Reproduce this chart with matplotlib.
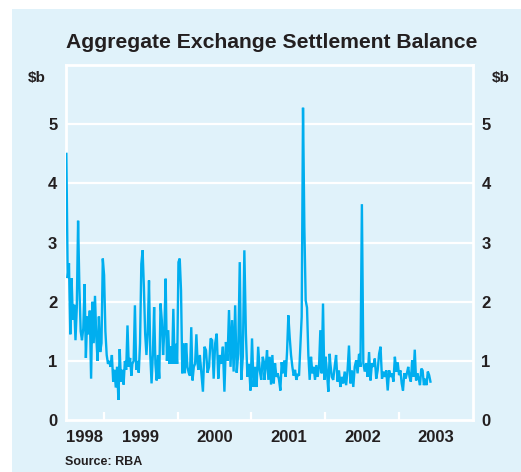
# Aggregate Exchange Settlement Balance (RBA style)
import numpy as np
import matplotlib.pyplot as plt
from matplotlib.patches import Rectangle

plt.rcParams['font.family'] = ['Liberation Sans', 'DejaVu Sans']
plt.rcParams['font.weight'] = 'bold'

# data: readings in $b, grouped by stretch of time (decimal years)
spans = [(1998.495, 1999.375), (1999.388, 2000.272), (2000.281, 2001.174),
         (2001.175, 2002.059), (2002.068, 2002.961), (2002.963, 2003.423)]

vals_a = [4.5, 2.4, 2.65, 1.45, 2.4, 1.7, 1.95, 1.35, 1.9, 3.37,
          2.25, 1.5, 1.35, 1.55, 2.3, 1.05, 1.75, 1.45, 1.85, 0.7,
          2.0, 1.3, 2.1, 1.4, 1.0, 1.75, 1.15, 1.3, 2.73, 2.45,
          1.5, 1.1, 0.95, 1.0, 0.9, 1.1, 0.65, 0.85, 0.55, 0.9,
          0.34, 1.2, 0.65, 0.85, 0.6, 1.0, 0.85, 1.6, 0.9, 1.05, 0.75]
vals_b = [0.95, 1.0, 1.94, 0.85, 1.0, 0.8, 1.3, 2.64, 2.87, 2.25,
          1.46, 1.1, 1.5, 2.36, 1.1, 0.62, 1.1, 1.91, 0.95, 0.67,
          1.1, 0.7, 1.97, 1.69, 1.1, 1.52, 2.39, 1.0, 1.52, 0.95,
          1.25, 0.95, 1.88, 0.95, 1.29, 0.95, 2.67, 2.73, 2.19, 0.79,
          1.3, 0.79, 1.3, 0.9, 0.8, 0.75, 1.57, 0.67, 0.9, 0.95, 1.45, 0.95]
vals_c = [0.85, 1.1, 0.8, 0.48, 1.24, 1.18, 0.8, 0.9, 1.38, 1.35,
          0.7, 1.3, 1.46, 0.7, 1.1, 0.95, 1.24, 0.48, 1.32, 1.0,
          1.86, 0.9, 1.69, 0.82, 1.94, 0.8, 1.12, 2.67, 0.68, 1.07,
          2.87, 1.46, 0.73, 0.95, 0.5, 1.38, 0.56, 0.9, 0.56, 1.24,
          0.84, 0.68, 1.07, 0.95]
vals_d = [0.68, 0.9, 1.18, 0.68, 1.07, 0.6, 1.1, 0.62, 0.96, 0.73,
          0.79, 0.68, 0.5, 0.98, 0.79, 1.01, 0.73, 1.15, 1.77, 1.40,
          1.1, 0.9, 0.75, 0.85, 0.68, 0.78, 0.75, 1.24, 1.75, 5.28,
          3.26, 2.02, 1.9, 1.1, 0.68, 1.07, 0.79, 0.9, 0.68, 0.93,
          0.73, 0.9, 1.52, 0.79, 1.97, 0.68, 1.07, 0.79, 0.48, 1.12]
vals_e = [0.96, 0.73, 0.68, 0.9, 1.1, 0.65, 0.84, 0.56, 0.73, 0.62,
          0.82, 0.59, 0.84, 1.26, 0.62, 0.84, 0.56, 0.9, 1.01, 0.79,
          1.12, 0.9, 3.65, 0.96, 0.82, 0.96, 0.73, 1.15, 0.67, 0.96,
          0.9, 1.04, 0.70, 0.84, 1.12, 1.24, 0.70, 0.82, 0.73, 0.84,
          0.50, 0.84, 0.73, 0.79, 0.65, 1.07, 0.82]
vals_f = [0.96, 0.96, 0.76, 0.84, 0.62, 0.50, 0.79, 0.70, 0.79, 0.90,
          0.73, 0.65, 1.01, 0.73, 1.19, 0.67, 0.79, 0.70, 0.59, 0.87,
          0.84, 0.59, 0.70, 0.59, 0.82, 0.76, 0.65]

years = [1998, 1999, 2000, 2001, 2002, 2003]
yticks = [0, 1, 2, 3, 4, 5]

bg = '#e0f2fa'
line_col = '#00aeef'
txt = '#231f20'

# build the series
t = []
v = []
for (t0, t1), vals in zip(spans, [vals_a, vals_b, vals_c, vals_d, vals_e, vals_f]):
    t.extend(np.linspace(t0, t1, len(vals)))
    v.extend(vals)

fig = plt.figure(figsize=(5.21, 4.72), dpi=100)
fig.patch.set_facecolor('white')
fig.patches.append(Rectangle((12/521, 0), 509/521, 463/472, transform=fig.transFigure,
                             facecolor=bg, edgecolor='none', zorder=-1))

ax = fig.add_axes([0.126, 0.110, 0.782, 0.752])
ax.set_facecolor(bg)
ax.plot(t, v, color=line_col, lw=1.7, solid_joinstyle='miter', zorder=3)

ax.set_xlim(1998.485, 2004.0)
ax.set_ylim(0, 6)

# white grid and frame
for y in yticks[1:]:
    ax.axhline(y, color='white', lw=1.6, zorder=0)
for s in ax.spines.values():
    s.set_color('white')
    s.set_linewidth(2)
    s.set_zorder(1)

ax.set_yticks(yticks)
ax.tick_params(axis='y', length=0, labelsize=12, labelcolor=txt, pad=6,
               labelright=True, right=False)
for lab in ax.get_yticklabels():
    lab.set_fontweight('bold')

# year boundaries as ticks, labels centred in each year
ax.set_xticks(years[1:])
ax.tick_params(axis='x', which='major', direction='in', length=6, width=1.6,
               color='white', labelbottom=False)
lo, hi = ax.get_xlim()
mids = [(max(y, lo) + min(y + 1, hi)) / 2 for y in years]
ax.set_xticks(mids, minor=True)
ax.set_xticklabels([str(y) for y in years], minor=True, fontsize=12,
                   fontweight='bold', color=txt)
ax.tick_params(axis='x', which='minor', length=0, pad=7)

ax.text(-0.07, 0.963, '$b', transform=ax.transAxes, ha='center', va='center',
        fontsize=11, fontweight='bold', color=txt)
ax.text(1.067, 0.963, '$b', transform=ax.transAxes, ha='center', va='center',
        fontsize=11, fontweight='bold', color=txt)

fig.text(0.522, 0.911, 'Aggregate Exchange Settlement Balance', ha='center',
         va='center', fontsize=15.2, fontweight='bold', color=txt)
fig.text(0.125, 0.021, 'Source: RBA', ha='left', va='center', fontsize=9,
         fontweight='bold', color=txt)

fig.savefig('out.png', dpi=100)
